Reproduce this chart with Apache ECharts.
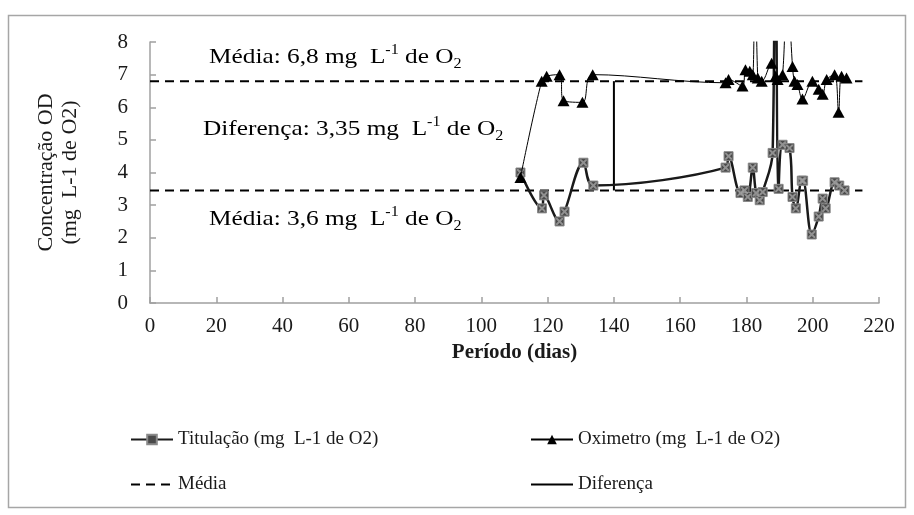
<!DOCTYPE html>
<html>
<head>
<meta charset="utf-8">
<script src="https://cdn.jsdelivr.net/npm/echarts@6/dist/echarts.min.js"></script>
<style>
  html, body { margin: 0; padding: 0; background: #ffffff; }
  #chart { width: 914px; height: 515px; }
</style>
</head>
<body>
<div id="chart"></div>
<script>
// Dissolved oxygen: titration vs oximeter readings over the period (days)
const titDays = [111.8, 118.3, 118.9, 123.6, 125.1, 130.8, 133.8, 173.7, 174.6, 178.2, 179.4, 180.4,
  181.9, 182.9, 184.0, 184.9, 187.9, 188.7, 189.7, 190.9, 193.0, 193.9, 194.9, 196.7, 197.1,
  199.7, 201.8, 203.0, 203.9, 206.6, 208.0, 209.6];
const titVals = [4.0, 2.9, 3.3, 2.5, 2.8, 4.3, 3.6, 4.15, 4.5, 3.37, 3.45, 3.25,
  4.15, 3.37, 3.15, 3.4, 4.6, 14.0, 3.5, 4.85, 4.75, 3.25, 2.9, 3.75, 3.75,
  2.1, 2.65, 3.2, 2.9, 3.7, 3.6, 3.45];

const oxiDays = [111.8, 118.2, 119.7, 123.6, 124.8, 130.5, 133.6, 173.7, 174.6, 178.8, 179.7, 181.0,
  181.9, 182.6, 183.4, 184.6, 187.6, 188.8, 189.4, 190.9, 192.2, 193.9, 194.5, 195.4, 196.9,
  199.9, 201.8, 203.0, 204.2, 206.6, 207.8, 208.7, 210.2];
const oxiVals = [3.85, 6.8, 6.95, 7.0, 6.2, 6.15, 7.0, 6.75, 6.85, 6.65, 7.15, 7.1,
  7.0, 12.0, 6.9, 6.8, 7.35, 6.95, 6.85, 7.0, 10.0, 7.25, 6.8, 6.7, 6.25,
  6.8, 6.55, 6.4, 6.85, 7.0, 5.85, 6.95, 6.9];

// Means and the difference between them
const meanSpan = [0, 215];
const meanHigh = 6.8;
const diffValue = 3.35;
const meanLow = +(meanHigh - diffValue).toFixed(2);
const diffDay = 140;

// Axis ticks
const xTicks = [0, 20, 40, 60, 80, 100, 120, 140, 160, 180, 200, 220];
const yTicks = [0, 1, 2, 3, 4, 5, 6, 7, 8];

const nameTit = 'Titulação (mg  L-1 de O2)';
const nameOxi = 'Oximetro (mg  L-1 de O2)';
const FONT = '"Liberation Serif", "Times New Roman", serif';
const INK = '#1a1a1a';
const AXIS = '#a0a0a0';

const zip = (xs, ys) => xs.map((x, i) => [x, ys[i]]);

// small "x" drawn over each titration square
const crossPath = 'path://M0,0L2,0L5,3L8,0L10,0L10,2L7,5L10,8L10,10L8,10L5,7L2,10L0,10L0,8L3,5L0,2Z';

const chart = echarts.init(document.getElementById('chart'), null, { renderer: 'canvas' });

const richBase = {
  a: { fontFamily: FONT, fontSize: 22, color: INK, lineHeight: 28, verticalAlign: 'middle' },
  sup: { fontFamily: FONT, fontSize: 14, color: INK, lineHeight: 28, verticalAlign: 'top', padding: [0, 0, 9, 0] },
  sub: { fontFamily: FONT, fontSize: 14, color: INK, lineHeight: 28, verticalAlign: 'bottom', padding: [9, 0, 0, 0] }
};

// annotation: lead text, then "L" with superscript -1, " de O" with subscript 2
function note(x, y, lead) {
  return {
    type: 'text', x: x, y: y, scaleX: 1.15, z: 10,
    style: {
      x: 0, y: 0,
      text: '{a|' + lead + ' L}{sup|-1}{a| de O}{sub|2}',
      rich: richBase
    }
  };
}

const legendBase = {
  orient: 'vertical', top: 430, padding: 0,
  itemWidth: 42, itemHeight: 12, itemGap: 26,
  textStyle: { fontFamily: FONT, fontSize: 19, color: INK, padding: [0, 0, 0, 0] }
};

chart.setOption({
  animation: false,
  backgroundColor: '#ffffff',
  grid: { left: 150, right: 35, top: 42, bottom: 212, containLabel: false },
  xAxis: {
    type: 'value', min: 0, max: 220, interval: 20,
    name: 'Período (dias)', nameLocation: 'middle', nameGap: 39,
    nameTextStyle: { fontFamily: FONT, fontSize: 21, fontWeight: 'bold', color: INK },
    axisLine: { show: true, lineStyle: { color: AXIS, width: 1.5 } },
    axisTick: { show: true, inside: true, length: 6, lineStyle: { color: AXIS, width: 1.5 } },
    axisLabel: {
      margin: 13, fontFamily: FONT, fontSize: 21, color: INK,
      formatter: v => xTicks.includes(v) ? String(v) : ''
    },
    splitLine: { show: false }
  },
  yAxis: {
    type: 'value', min: 0, max: 8, interval: 1,
    name: 'Concentração OD\n(mg  L-1 de O2)', nameLocation: 'middle', nameGap: 68, nameRotate: 90,
    nameTextStyle: { fontFamily: FONT, fontSize: 22, color: INK, lineHeight: 24 },
    axisLine: { show: true, lineStyle: { color: AXIS, width: 1.5 } },
    axisTick: { show: true, inside: true, length: 6, lineStyle: { color: AXIS, width: 1.5 } },
    axisLabel: {
      margin: 22, fontFamily: FONT, fontSize: 21, color: INK,
      formatter: v => yTicks.includes(v) ? String(v) : ''
    },
    splitLine: { show: false }
  },
  legend: [
    Object.assign({}, legendBase, {
      left: 130,
      data: [nameTit, { name: 'Média', itemStyle: { opacity: 0 } }]
    }),
    Object.assign({}, legendBase, {
      left: 530,
      data: [nameOxi, { name: 'Diferença', itemStyle: { opacity: 0 } }]
    })
  ],
  graphic: [
    { type: 'rect', shape: { x: 8.5, y: 15.5, width: 897, height: 492 }, style: { fill: 'none', stroke: '#a6a6a6', lineWidth: 1.5 }, silent: true, z: -1 },
    note(209, 43, 'Média: 6,8 mg '),
    note(203, 115, 'Diferença: 3,35 mg '),
    note(209, 205, 'Média: 3,6 mg ')
  ],
  series: [
    {
      name: nameTit, type: 'line', data: zip(titDays, titVals),
      smooth: 0.35, clip: true,
      symbol: 'rect', symbolSize: 9,
      itemStyle: { color: '#4a4a4a', borderColor: '#8a8a8a', borderWidth: 1 },
      lineStyle: { color: INK, width: 2.5 },
      z: 3
    },
    {
      name: nameTit + ' x', type: 'scatter', data: zip(titDays, titVals),
      symbol: crossPath, symbolSize: 7, clip: true,
      itemStyle: { color: '#a3a3a3' }, silent: true, z: 4
    },
    {
      name: nameOxi, type: 'line', data: zip(oxiDays, oxiVals),
      smooth: 0.35, clip: true,
      symbol: 'triangle', symbolSize: [12, 11],
      itemStyle: { color: '#000000' },
      lineStyle: { color: '#000000', width: 1 },
      z: 5
    },
    {
      name: 'Média', type: 'line', data: zip(meanSpan, [meanHigh, meanHigh]),
      symbol: 'none', itemStyle: { color: '#000000' },
      lineStyle: { color: '#000000', width: 2, type: [9, 6] }, z: 2
    },
    {
      name: 'Média', type: 'line', data: zip(meanSpan, [meanLow, meanLow]),
      symbol: 'none', itemStyle: { color: '#000000' },
      lineStyle: { color: '#000000', width: 2, type: [9, 6] }, z: 2
    },
    {
      name: 'Diferença', type: 'line', data: zip([diffDay, diffDay], [meanLow, meanHigh]),
      symbol: 'none', itemStyle: { color: '#000000' },
      lineStyle: { color: '#000000', width: 2 }, z: 2
    }
  ]
});
</script>
</body>
</html>
